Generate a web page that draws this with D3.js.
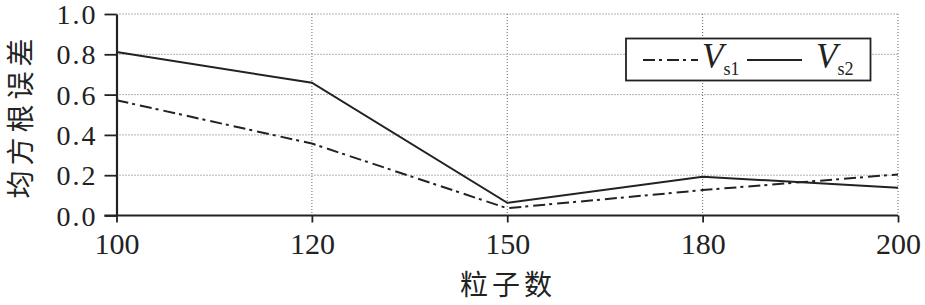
<!DOCTYPE html>
<html>
<head>
<meta charset="utf-8">
<script src="https://cdn.jsdelivr.net/npm/d3@7/dist/d3.min.js"></script>
<style>
html,body{margin:0;padding:0;background:#fff;}
svg{display:block;}
</style>
</head>
<body>
<svg id="chart" width="925" height="305"></svg>
<script>
const categories = ["100", "120", "150", "180", "200"];
const vs1 = [0.572, 0.357, 0.036, 0.126, 0.204];
const vs2 = [0.811, 0.659, 0.063, 0.192, 0.138];
const yTicks = [0.0, 0.2, 0.4, 0.6, 0.8, 1.0];
const xLabel = "粒子数";
const yLabel = "均方根误差";

const svg = d3.select("#chart");
const m = {left: 116.5, right: 27, top: 14, bottom: 89.5};
const W = 925, H = 305;
const x = d3.scalePoint().domain(categories).range([m.left, W - m.right]);
const y = d3.scaleLinear().domain([0, 1]).range([H - m.bottom, m.top]);

const serif = "Liberation Serif, DejaVu Serif, serif";
const cjk = "Noto Sans CJK SC, sans-serif";

// grid
const grid = svg.append("g");
grid.selectAll("line.h").data(yTicks.filter(d => d > 0)).enter().append("line")
  .attr("x1", m.left).attr("x2", W - m.right)
  .attr("y1", d => y(d)).attr("y2", d => y(d))
  .attr("stroke", "#666").attr("stroke-width", 1).attr("stroke-dasharray", "1,2");
grid.selectAll("line.v").data(categories.slice(1)).enter().append("line")
  .attr("x1", d => x(d)).attr("x2", d => x(d))
  .attr("y1", y(1)).attr("y2", y(0))
  .attr("stroke", "#666").attr("stroke-width", 1).attr("stroke-dasharray", "1,2");

// axes
const xAxis = svg.append("g").attr("transform", `translate(0,${y(0)})`)
  .call(d3.axisBottom(x).tickSizeInner(7).tickSizeOuter(0).tickPadding(10));
const yAxis = svg.append("g").attr("transform", `translate(${m.left},0)`)
  .call(d3.axisLeft(y).tickValues(yTicks).tickFormat(d3.format(".1f")).tickSizeInner(12).tickSizeOuter(0).tickPadding(7));
xAxis.attr("font-family", serif).attr("font-size", 30);
yAxis.attr("font-family", serif).attr("font-size", 28);
[xAxis, yAxis].forEach(g => {
  g.select(".domain").attr("stroke", "#222").attr("stroke-width", 2.2);
  g.selectAll(".tick line").attr("stroke", "#222").attr("stroke-width", 1.8);
  g.selectAll(".tick text").attr("fill", "#222");
});
xAxis.selectAll(".tick text").attr("dy", "0.7em");
yAxis.selectAll(".tick text").attr("dy", "0.34em").attr("letter-spacing", 2);
xAxis.select(".domain").attr("d", `M${m.left - 12},0H${W - m.right}`);

// lines
const line = d3.line().x((d, i) => x(categories[i])).y(d => y(d));
svg.append("path").datum(vs1).attr("d", line).attr("fill", "none")
  .attr("stroke", "#222").attr("stroke-width", 2).attr("stroke-dasharray", "12,4,3,5");
svg.append("path").datum(vs2).attr("d", line).attr("fill", "none")
  .attr("stroke", "#222").attr("stroke-width", 2);

// labels
svg.append("text").attr("x", 508).attr("y", 295).attr("text-anchor", "middle")
  .attr("font-family", cjk).attr("font-size", 28).attr("letter-spacing", 4).attr("fill", "#222").text(xLabel);
svg.append("text").attr("transform", "translate(31,116) rotate(-90)").attr("text-anchor", "middle")
  .attr("font-family", cjk).attr("font-size", 28).attr("letter-spacing", 5).attr("fill", "#222").text(yLabel);

// legend
const lg = svg.append("g");
lg.append("rect").attr("x", 626).attr("y", 38.5).attr("width", 244.5).attr("height", 42)
  .attr("fill", "#fff").attr("stroke", "#222").attr("stroke-width", 1.8);
lg.append("line").attr("x1", 643).attr("x2", 698).attr("y1", 60).attr("y2", 60)
  .attr("stroke", "#222").attr("stroke-width", 2).attr("stroke-dasharray", "12,4,3,5");
lg.append("line").attr("x1", 747).attr("x2", 802).attr("y1", 60).attr("y2", 60)
  .attr("stroke", "#222").attr("stroke-width", 2);
const lab = (xx, sub) => {
  const t = lg.append("text").attr("x", xx).attr("y", 68).attr("font-family", serif).attr("fill", "#222");
  t.append("tspan").attr("font-style", "italic").attr("font-size", 35).text("V");
  t.append("tspan").attr("font-size", 18).attr("dy", 7).text(sub);
};
lab(702, "s1");
lab(816, "s2");
</script>
</body>
</html>
